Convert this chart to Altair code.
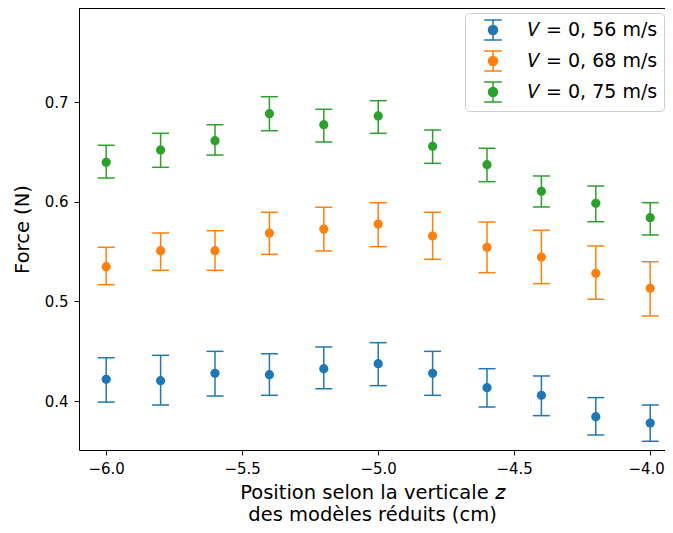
import altair as alt
import pandas as pd

positions = [-6.0, -5.8, -5.6, -5.4, -5.2, -5.0, -4.8, -4.6, -4.4, -4.2, -4.0]

labels = ["𝑉 = 0, 56 m/s", "𝑉 = 0, 68 m/s", "𝑉 = 0, 75 m/s"]
colors = ["#1f77b4", "#ff7f0e", "#2ca02c"]

f_056 = [0.4219, 0.4205, 0.4279, 0.4265, 0.4325, 0.4375, 0.4279, 0.4135, 0.4058, 0.3844, 0.3780]
lo_056 = [0.3990, 0.3961, 0.4051, 0.4058, 0.4124, 0.4155, 0.4058, 0.3941, 0.3854, 0.3660, 0.3597]
hi_056 = [0.4435, 0.4459, 0.4499, 0.4475, 0.4543, 0.4586, 0.4499, 0.4325, 0.4252, 0.4035, 0.3961]

f_068 = [0.5348, 0.5509, 0.5509, 0.5686, 0.5726, 0.5776, 0.5656, 0.5543, 0.5445, 0.5282, 0.5131]
lo_068 = [0.5168, 0.5312, 0.5312, 0.5472, 0.5506, 0.5549, 0.5422, 0.5288, 0.5178, 0.5021, 0.4854]
hi_068 = [0.5543, 0.5686, 0.5709, 0.5894, 0.5944, 0.5990, 0.5894, 0.5796, 0.5713, 0.5556, 0.5398]

f_075 = [0.6395, 0.6519, 0.6612, 0.6883, 0.6772, 0.6860, 0.6556, 0.6371, 0.6104, 0.5984, 0.5840]
lo_075 = [0.6238, 0.6345, 0.6468, 0.6712, 0.6599, 0.6686, 0.6385, 0.6201, 0.5947, 0.5799, 0.5666]
hi_075 = [0.6566, 0.6686, 0.6772, 0.7053, 0.6927, 0.7013, 0.6719, 0.6536, 0.6258, 0.6157, 0.5990]

x_ticks = [-6.0, -5.5, -5.0, -4.5, -4.0]
y_ticks = [0.4, 0.5, 0.6, 0.7]

rows = []
for lab, f, lo, hi in zip(labels, [f_056, f_068, f_075], [lo_056, lo_068, lo_075], [hi_056, hi_068, hi_075]):
    for p, v, l, h in zip(positions, f, lo, hi):
        rows.append({"z": p, "F": v, "lo": l, "hi": h, "serie": lab})
df = pd.DataFrame(rows)

W, H = 586, 442
xdom = [-6.1, -6.1 + W / 272.0]
ydom = [0.7 - (H - 94) / 997.0, 0.7 + 94 / 997.0]

FONT = "DejaVu Sans"

xs = alt.X("z:Q", scale=alt.Scale(domain=xdom, nice=False, zero=False),
           axis=alt.Axis(values=x_ticks, format=".1f",
                         labelOffset={"condition": {"test": "datum.value == -4", "value": -4}, "value": 0},
                         title=["Position selon la verticale 𝑧", "des modèles réduits (cm)"]))
ys = alt.Y("lo:Q", scale=alt.Scale(domain=ydom, nice=False, zero=False),
           axis=alt.Axis(values=y_ticks, format=".1f", title="Force (N)"))

sym_path = ("M0,-1L0,1M-0.88,-1L0.88,-1M-0.88,1L0.88,1"
            "M0.45,0A0.45,0.45,0,1,1,-0.45,0A0.45,0.45,0,1,1,0.45,0Z")

leg = alt.Legend(title=None, orient="none", legendX=386, legendY=5,
                 symbolType=sym_path, symbolSize=400, symbolStrokeWidth=1.5,
                 labelFont=FONT, labelFontSize=19, labelColor="#000000",
                 labelOffset=24, rowPadding=5, padding=6, symbolOffset=11,
                 strokeColor="#cccccc", cornerRadius=4,
                 fillColor="rgba(255,255,255,0.8)", labelLimit=400)

stroke_enc = alt.Stroke("serie:N", scale=alt.Scale(domain=labels, range=colors), legend=leg)
fill_enc = alt.Fill("serie:N", scale=alt.Scale(domain=labels, range=colors), legend=leg)

base = alt.Chart(df)

bars = base.mark_rule(strokeWidth=1.5).encode(x=xs, y=ys, y2="hi:Q", stroke=stroke_enc)
cap_lo = base.mark_rule(strokeWidth=1.5, xOffset=-8.5, x2Offset=8.5).encode(
    x=xs, x2="z:Q", y=ys, stroke=stroke_enc)
cap_hi = base.mark_rule(strokeWidth=1.5, xOffset=-8.5, x2Offset=8.5).encode(
    x=xs, x2="z:Q", y=alt.Y("hi:Q"), stroke=stroke_enc)
pts = base.mark_circle(size=85, opacity=1).encode(x=xs, y=alt.Y("F:Q"), fill=fill_enc)

top = alt.Chart(pd.DataFrame({"a": [0]})).mark_rule(color="black", strokeWidth=1).encode(
    x=alt.value(0), x2=alt.value(W), y=alt.value(0.5))

chart = alt.layer(bars, cap_lo, cap_hi, pts, top).properties(
    width=W, height=H,
    autosize=alt.AutoSizeParams(type="none"),
    padding={"left": 71, "top": 0, "right": 0, "bottom": 75},
).configure_view(stroke=None).configure_axis(
    labelFont=FONT, titleFont=FONT, labelFontSize=15, titleFontSize=19.5,
    labelColor="#000000", titleColor="#000000", titleFontWeight="normal",
    domainColor="#000000", tickColor="#000000", tickSize=5, grid=False,
    labelPadding=4,
).configure_axisX(titlePadding=7, titleLineHeight=22, labelPadding=6).configure_axisY(titlePadding=12, labelPadding=6)

chart.save("out.html", embed_options={"renderer": "svg", "actions": False})
